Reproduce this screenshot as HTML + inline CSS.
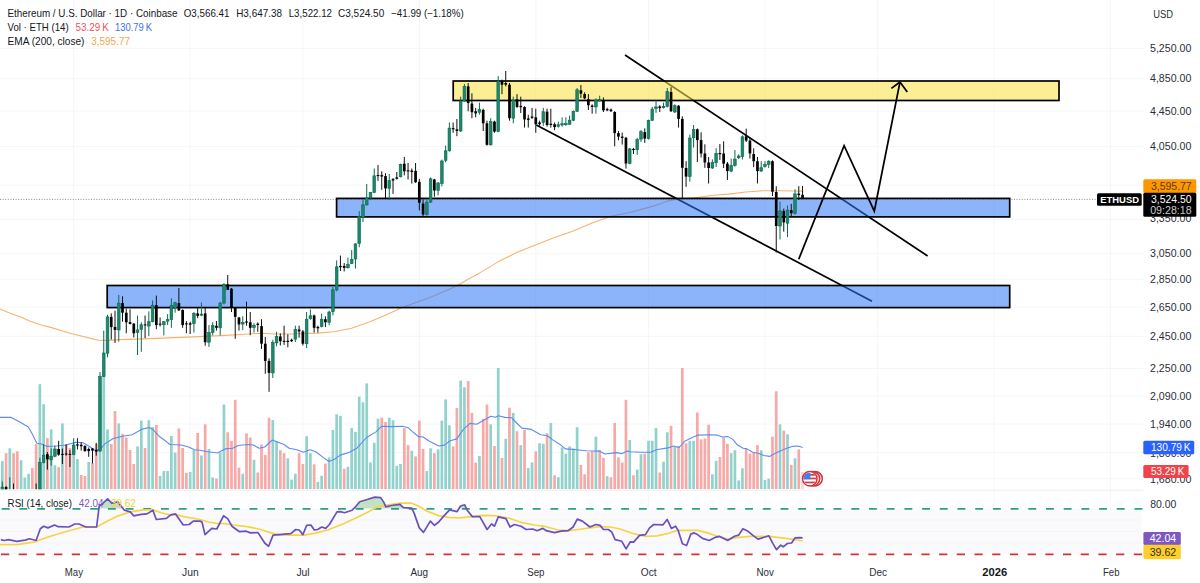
<!DOCTYPE html>
<html lang="en"><head><meta charset="utf-8"><title>ETHUSD chart</title>
<style>html,body{margin:0;padding:0;background:#fff;}body{width:1200px;height:583px;overflow:hidden;}svg{display:block;font-family:'Liberation Sans', sans-serif;}text{white-space:pre;}</style></head><body>
<svg width="1200" height="583" viewBox="0 0 1200 583">
<defs>
<clipPath id="mainclip"><rect x="0" y="0" width="1143" height="489.3"/></clipPath>
<clipPath id="obclip"><rect x="0" y="490" width="1143" height="18.5"/></clipPath>
<clipPath id="flagclip"><circle cx="809.8" cy="478.7" r="6.3"/></clipPath>
</defs>
<rect x="0" y="0" width="1200" height="583" fill="#ffffff"/>
<line x1="73.7" y1="0" x2="73.7" y2="562" stroke="#f5f6f8" stroke-width="1"/>
<line x1="190.2" y1="0" x2="190.2" y2="562" stroke="#f5f6f8" stroke-width="1"/>
<line x1="302.9" y1="0" x2="302.9" y2="562" stroke="#f5f6f8" stroke-width="1"/>
<line x1="419.3" y1="0" x2="419.3" y2="562" stroke="#f5f6f8" stroke-width="1"/>
<line x1="535.8" y1="0" x2="535.8" y2="562" stroke="#f5f6f8" stroke-width="1"/>
<line x1="648.5" y1="0" x2="648.5" y2="562" stroke="#f5f6f8" stroke-width="1"/>
<line x1="765.0" y1="0" x2="765.0" y2="562" stroke="#f5f6f8" stroke-width="1"/>
<line x1="877.7" y1="0" x2="877.7" y2="562" stroke="#f5f6f8" stroke-width="1"/>
<line x1="994.2" y1="0" x2="994.2" y2="562" stroke="#f5f6f8" stroke-width="1"/>
<line x1="1110.7" y1="0" x2="1110.7" y2="562" stroke="#f5f6f8" stroke-width="1"/>
<line x1="0" y1="48.4" x2="1143" y2="48.4" stroke="#f5f6f8" stroke-width="1"/>
<line x1="0" y1="78.7" x2="1143" y2="78.7" stroke="#f5f6f8" stroke-width="1"/>
<line x1="0" y1="111.1" x2="1143" y2="111.1" stroke="#f5f6f8" stroke-width="1"/>
<line x1="0" y1="146.6" x2="1143" y2="146.6" stroke="#f5f6f8" stroke-width="1"/>
<line x1="0" y1="185.2" x2="1143" y2="185.2" stroke="#f5f6f8" stroke-width="1"/>
<line x1="0" y1="219.4" x2="1143" y2="219.4" stroke="#f5f6f8" stroke-width="1"/>
<line x1="0" y1="253.7" x2="1143" y2="253.7" stroke="#f5f6f8" stroke-width="1"/>
<line x1="0" y1="279.4" x2="1143" y2="279.4" stroke="#f5f6f8" stroke-width="1"/>
<line x1="0" y1="307.0" x2="1143" y2="307.0" stroke="#f5f6f8" stroke-width="1"/>
<line x1="0" y1="336.3" x2="1143" y2="336.3" stroke="#f5f6f8" stroke-width="1"/>
<line x1="0" y1="368.5" x2="1143" y2="368.5" stroke="#f5f6f8" stroke-width="1"/>
<line x1="0" y1="396.0" x2="1143" y2="396.0" stroke="#f5f6f8" stroke-width="1"/>
<line x1="0" y1="424.0" x2="1143" y2="424.0" stroke="#f5f6f8" stroke-width="1"/>
<line x1="0" y1="452.6" x2="1143" y2="452.6" stroke="#f5f6f8" stroke-width="1"/>
<line x1="0" y1="478.7" x2="1143" y2="478.7" stroke="#f5f6f8" stroke-width="1"/>
<line x1="0" y1="490.2" x2="1200" y2="490.2" stroke="#eceef2" stroke-width="1"/>
<rect x="0" y="508.7" width="1141.6" height="45.5" fill="#fafafc"/>
<line x1="0" y1="520.0" x2="1141" y2="520.0" stroke="#f3f4f6" stroke-width="1"/>
<line x1="0" y1="531.3" x2="1141" y2="531.3" stroke="#f3f4f6" stroke-width="1"/>
<line x1="0" y1="542.8" x2="1141" y2="542.8" stroke="#f3f4f6" stroke-width="1"/>
<g clip-path="url(#mainclip)">
<rect x="0.95" y="461.1" width="2.70" height="27.9" fill="#92d2cc"/>
<rect x="4.71" y="453.2" width="2.70" height="35.8" fill="#f7a9a7"/>
<rect x="8.46" y="448.3" width="2.70" height="40.7" fill="#92d2cc"/>
<rect x="12.22" y="453.2" width="2.70" height="35.8" fill="#f7a9a7"/>
<rect x="15.98" y="451.3" width="2.70" height="37.7" fill="#f7a9a7"/>
<rect x="19.73" y="460.2" width="2.70" height="28.8" fill="#92d2cc"/>
<rect x="23.49" y="477.5" width="2.70" height="11.5" fill="#92d2cc"/>
<rect x="27.25" y="473.8" width="2.70" height="15.2" fill="#92d2cc"/>
<rect x="31.01" y="468.1" width="2.70" height="20.9" fill="#f7a9a7"/>
<rect x="34.76" y="444.2" width="2.70" height="44.8" fill="#f7a9a7"/>
<rect x="38.52" y="384.2" width="2.70" height="104.8" fill="#92d2cc"/>
<rect x="42.28" y="404.2" width="2.70" height="84.8" fill="#92d2cc"/>
<rect x="46.03" y="438.1" width="2.70" height="50.9" fill="#f7a9a7"/>
<rect x="49.79" y="429.4" width="2.70" height="59.6" fill="#92d2cc"/>
<rect x="53.55" y="465.3" width="2.70" height="23.7" fill="#92d2cc"/>
<rect x="57.30" y="467.2" width="2.70" height="21.8" fill="#f7a9a7"/>
<rect x="61.06" y="423.4" width="2.70" height="65.6" fill="#92d2cc"/>
<rect x="64.82" y="444.2" width="2.70" height="44.8" fill="#f7a9a7"/>
<rect x="68.58" y="447.9" width="2.70" height="41.1" fill="#f7a9a7"/>
<rect x="72.33" y="443.0" width="2.70" height="46.0" fill="#92d2cc"/>
<rect x="76.09" y="459.0" width="2.70" height="30.0" fill="#92d2cc"/>
<rect x="79.85" y="475.0" width="2.70" height="14.0" fill="#f7a9a7"/>
<rect x="83.60" y="476.0" width="2.70" height="13.0" fill="#f7a9a7"/>
<rect x="87.36" y="462.0" width="2.70" height="27.0" fill="#92d2cc"/>
<rect x="91.12" y="463.0" width="2.70" height="26.0" fill="#f7a9a7"/>
<rect x="94.88" y="444.0" width="2.70" height="45.0" fill="#f7a9a7"/>
<rect x="98.63" y="395.0" width="2.70" height="94.0" fill="#92d2cc"/>
<rect x="102.39" y="372.0" width="2.70" height="117.0" fill="#92d2cc"/>
<rect x="106.15" y="429.4" width="2.70" height="59.6" fill="#92d2cc"/>
<rect x="109.90" y="444.0" width="2.70" height="45.0" fill="#f7a9a7"/>
<rect x="113.66" y="411.0" width="2.70" height="78.0" fill="#f7a9a7"/>
<rect x="117.42" y="423.4" width="2.70" height="65.6" fill="#92d2cc"/>
<rect x="121.17" y="433.8" width="2.70" height="55.2" fill="#f7a9a7"/>
<rect x="124.93" y="437.5" width="2.70" height="51.5" fill="#f7a9a7"/>
<rect x="128.69" y="450.0" width="2.70" height="39.0" fill="#f7a9a7"/>
<rect x="132.45" y="464.0" width="2.70" height="25.0" fill="#f7a9a7"/>
<rect x="136.20" y="446.4" width="2.70" height="42.6" fill="#92d2cc"/>
<rect x="139.96" y="420.6" width="2.70" height="68.4" fill="#92d2cc"/>
<rect x="143.72" y="448.0" width="2.70" height="41.0" fill="#f7a9a7"/>
<rect x="147.47" y="420.2" width="2.70" height="68.8" fill="#92d2cc"/>
<rect x="151.23" y="427.0" width="2.70" height="62.0" fill="#92d2cc"/>
<rect x="154.99" y="425.0" width="2.70" height="64.0" fill="#f7a9a7"/>
<rect x="158.74" y="476.0" width="2.70" height="13.0" fill="#92d2cc"/>
<rect x="162.50" y="471.0" width="2.70" height="18.0" fill="#92d2cc"/>
<rect x="166.26" y="471.0" width="2.70" height="18.0" fill="#92d2cc"/>
<rect x="170.02" y="436.0" width="2.70" height="53.0" fill="#92d2cc"/>
<rect x="173.77" y="452.6" width="2.70" height="36.4" fill="#92d2cc"/>
<rect x="177.53" y="428.5" width="2.70" height="60.5" fill="#f7a9a7"/>
<rect x="181.29" y="448.0" width="2.70" height="41.0" fill="#f7a9a7"/>
<rect x="185.04" y="472.8" width="2.70" height="16.2" fill="#f7a9a7"/>
<rect x="188.80" y="472.0" width="2.70" height="17.0" fill="#92d2cc"/>
<rect x="192.56" y="450.0" width="2.70" height="39.0" fill="#92d2cc"/>
<rect x="196.31" y="433.0" width="2.70" height="56.0" fill="#f7a9a7"/>
<rect x="200.07" y="455.5" width="2.70" height="33.5" fill="#92d2cc"/>
<rect x="203.83" y="424.3" width="2.70" height="64.7" fill="#f7a9a7"/>
<rect x="207.59" y="449.0" width="2.70" height="40.0" fill="#92d2cc"/>
<rect x="211.34" y="477.5" width="2.70" height="11.5" fill="#92d2cc"/>
<rect x="215.10" y="478.5" width="2.70" height="10.5" fill="#f7a9a7"/>
<rect x="218.86" y="452.6" width="2.70" height="36.4" fill="#92d2cc"/>
<rect x="222.61" y="404.5" width="2.70" height="84.5" fill="#92d2cc"/>
<rect x="226.37" y="432.3" width="2.70" height="56.7" fill="#f7a9a7"/>
<rect x="230.13" y="440.8" width="2.70" height="48.2" fill="#f7a9a7"/>
<rect x="233.88" y="399.8" width="2.70" height="89.2" fill="#f7a9a7"/>
<rect x="237.64" y="467.7" width="2.70" height="21.3" fill="#f7a9a7"/>
<rect x="241.40" y="473.8" width="2.70" height="15.2" fill="#92d2cc"/>
<rect x="245.16" y="433.4" width="2.70" height="55.6" fill="#f7a9a7"/>
<rect x="248.91" y="437.5" width="2.70" height="51.5" fill="#f7a9a7"/>
<rect x="252.67" y="459.8" width="2.70" height="29.2" fill="#92d2cc"/>
<rect x="256.43" y="472.5" width="2.70" height="16.5" fill="#f7a9a7"/>
<rect x="260.18" y="444.5" width="2.70" height="44.5" fill="#f7a9a7"/>
<rect x="263.94" y="455.0" width="2.70" height="34.0" fill="#f7a9a7"/>
<rect x="267.70" y="417.7" width="2.70" height="71.3" fill="#f7a9a7"/>
<rect x="271.45" y="420.0" width="2.70" height="69.0" fill="#92d2cc"/>
<rect x="275.21" y="440.8" width="2.70" height="48.2" fill="#92d2cc"/>
<rect x="278.97" y="450.2" width="2.70" height="38.8" fill="#f7a9a7"/>
<rect x="282.73" y="453.2" width="2.70" height="35.8" fill="#f7a9a7"/>
<rect x="286.48" y="458.3" width="2.70" height="30.7" fill="#92d2cc"/>
<rect x="290.24" y="479.6" width="2.70" height="9.4" fill="#92d2cc"/>
<rect x="294.00" y="473.8" width="2.70" height="15.2" fill="#92d2cc"/>
<rect x="297.75" y="453.2" width="2.70" height="35.8" fill="#f7a9a7"/>
<rect x="301.51" y="464.0" width="2.70" height="25.0" fill="#f7a9a7"/>
<rect x="305.27" y="436.2" width="2.70" height="52.8" fill="#92d2cc"/>
<rect x="309.02" y="453.2" width="2.70" height="35.8" fill="#92d2cc"/>
<rect x="312.78" y="464.3" width="2.70" height="24.7" fill="#f7a9a7"/>
<rect x="316.54" y="481.9" width="2.70" height="7.1" fill="#92d2cc"/>
<rect x="320.30" y="475.8" width="2.70" height="13.2" fill="#92d2cc"/>
<rect x="324.05" y="463.6" width="2.70" height="25.4" fill="#f7a9a7"/>
<rect x="327.81" y="457.4" width="2.70" height="31.6" fill="#92d2cc"/>
<rect x="331.57" y="430.0" width="2.70" height="59.0" fill="#92d2cc"/>
<rect x="335.32" y="414.3" width="2.70" height="74.7" fill="#92d2cc"/>
<rect x="339.08" y="415.8" width="2.70" height="73.2" fill="#92d2cc"/>
<rect x="342.84" y="468.7" width="2.70" height="20.3" fill="#f7a9a7"/>
<rect x="346.59" y="466.8" width="2.70" height="22.2" fill="#92d2cc"/>
<rect x="350.35" y="428.1" width="2.70" height="60.9" fill="#92d2cc"/>
<rect x="354.11" y="431.9" width="2.70" height="57.1" fill="#92d2cc"/>
<rect x="357.87" y="396.6" width="2.70" height="92.4" fill="#92d2cc"/>
<rect x="361.62" y="402.3" width="2.70" height="86.7" fill="#92d2cc"/>
<rect x="365.38" y="383.4" width="2.70" height="105.6" fill="#92d2cc"/>
<rect x="369.14" y="462.5" width="2.70" height="26.5" fill="#92d2cc"/>
<rect x="372.89" y="442.8" width="2.70" height="46.2" fill="#92d2cc"/>
<rect x="376.65" y="418.7" width="2.70" height="70.3" fill="#92d2cc"/>
<rect x="380.41" y="417.7" width="2.70" height="71.3" fill="#f7a9a7"/>
<rect x="384.16" y="421.9" width="2.70" height="67.1" fill="#f7a9a7"/>
<rect x="387.92" y="417.7" width="2.70" height="71.3" fill="#92d2cc"/>
<rect x="391.68" y="420.2" width="2.70" height="68.8" fill="#92d2cc"/>
<rect x="395.44" y="465.8" width="2.70" height="23.2" fill="#92d2cc"/>
<rect x="399.19" y="464.0" width="2.70" height="25.0" fill="#92d2cc"/>
<rect x="402.95" y="428.1" width="2.70" height="60.9" fill="#f7a9a7"/>
<rect x="406.71" y="445.1" width="2.70" height="43.9" fill="#f7a9a7"/>
<rect x="410.46" y="450.8" width="2.70" height="38.2" fill="#92d2cc"/>
<rect x="414.22" y="456.4" width="2.70" height="32.6" fill="#f7a9a7"/>
<rect x="417.98" y="420.6" width="2.70" height="68.4" fill="#f7a9a7"/>
<rect x="421.73" y="448.9" width="2.70" height="40.1" fill="#f7a9a7"/>
<rect x="425.49" y="471.1" width="2.70" height="17.9" fill="#92d2cc"/>
<rect x="429.25" y="448.3" width="2.70" height="40.7" fill="#92d2cc"/>
<rect x="433.00" y="453.2" width="2.70" height="35.8" fill="#f7a9a7"/>
<rect x="436.76" y="449.4" width="2.70" height="39.6" fill="#92d2cc"/>
<rect x="440.52" y="420.6" width="2.70" height="68.4" fill="#92d2cc"/>
<rect x="444.28" y="399.4" width="2.70" height="89.6" fill="#92d2cc"/>
<rect x="448.03" y="425.3" width="2.70" height="63.7" fill="#92d2cc"/>
<rect x="451.79" y="446.4" width="2.70" height="42.6" fill="#f7a9a7"/>
<rect x="455.55" y="407.9" width="2.70" height="81.1" fill="#f7a9a7"/>
<rect x="459.30" y="380.6" width="2.70" height="108.4" fill="#92d2cc"/>
<rect x="463.06" y="387.2" width="2.70" height="101.8" fill="#92d2cc"/>
<rect x="466.82" y="381.0" width="2.70" height="108.0" fill="#f7a9a7"/>
<rect x="470.57" y="413.0" width="2.70" height="76.0" fill="#f7a9a7"/>
<rect x="474.33" y="462.6" width="2.70" height="26.4" fill="#f7a9a7"/>
<rect x="478.09" y="456.0" width="2.70" height="33.0" fill="#92d2cc"/>
<rect x="481.85" y="418.7" width="2.70" height="70.3" fill="#f7a9a7"/>
<rect x="485.60" y="404.5" width="2.70" height="84.5" fill="#f7a9a7"/>
<rect x="489.36" y="424.3" width="2.70" height="64.7" fill="#92d2cc"/>
<rect x="493.12" y="446.0" width="2.70" height="43.0" fill="#f7a9a7"/>
<rect x="496.87" y="368.0" width="2.70" height="121.0" fill="#92d2cc"/>
<rect x="500.63" y="458.0" width="2.70" height="31.0" fill="#f7a9a7"/>
<rect x="504.39" y="438.9" width="2.70" height="50.1" fill="#92d2cc"/>
<rect x="508.14" y="407.7" width="2.70" height="81.3" fill="#f7a9a7"/>
<rect x="511.90" y="413.0" width="2.70" height="76.0" fill="#92d2cc"/>
<rect x="515.66" y="431.3" width="2.70" height="57.7" fill="#f7a9a7"/>
<rect x="519.42" y="445.1" width="2.70" height="43.9" fill="#92d2cc"/>
<rect x="523.17" y="430.0" width="2.70" height="59.0" fill="#f7a9a7"/>
<rect x="526.93" y="468.1" width="2.70" height="20.9" fill="#92d2cc"/>
<rect x="530.69" y="462.5" width="2.70" height="26.5" fill="#92d2cc"/>
<rect x="534.44" y="451.3" width="2.70" height="37.7" fill="#f7a9a7"/>
<rect x="538.20" y="443.2" width="2.70" height="45.8" fill="#92d2cc"/>
<rect x="541.96" y="443.8" width="2.70" height="45.2" fill="#92d2cc"/>
<rect x="545.71" y="433.2" width="2.70" height="55.8" fill="#f7a9a7"/>
<rect x="549.47" y="423.0" width="2.70" height="66.0" fill="#92d2cc"/>
<rect x="553.23" y="475.3" width="2.70" height="13.7" fill="#f7a9a7"/>
<rect x="556.99" y="477.2" width="2.70" height="11.8" fill="#92d2cc"/>
<rect x="560.74" y="447.5" width="2.70" height="41.5" fill="#92d2cc"/>
<rect x="564.50" y="453.6" width="2.70" height="35.4" fill="#92d2cc"/>
<rect x="568.26" y="446.4" width="2.70" height="42.6" fill="#92d2cc"/>
<rect x="572.01" y="448.3" width="2.70" height="40.7" fill="#92d2cc"/>
<rect x="575.77" y="427.2" width="2.70" height="61.8" fill="#92d2cc"/>
<rect x="579.53" y="464.9" width="2.70" height="24.1" fill="#f7a9a7"/>
<rect x="583.28" y="474.3" width="2.70" height="14.7" fill="#f7a9a7"/>
<rect x="587.04" y="452.3" width="2.70" height="36.7" fill="#f7a9a7"/>
<rect x="590.80" y="451.3" width="2.70" height="37.7" fill="#f7a9a7"/>
<rect x="594.56" y="436.6" width="2.70" height="52.4" fill="#92d2cc"/>
<rect x="598.31" y="449.8" width="2.70" height="39.2" fill="#f7a9a7"/>
<rect x="602.07" y="457.9" width="2.70" height="31.1" fill="#f7a9a7"/>
<rect x="605.83" y="476.2" width="2.70" height="12.8" fill="#92d2cc"/>
<rect x="609.58" y="477.2" width="2.70" height="11.8" fill="#f7a9a7"/>
<rect x="613.34" y="423.0" width="2.70" height="66.0" fill="#f7a9a7"/>
<rect x="617.10" y="457.4" width="2.70" height="31.6" fill="#f7a9a7"/>
<rect x="620.85" y="462.5" width="2.70" height="26.5" fill="#f7a9a7"/>
<rect x="624.61" y="399.8" width="2.70" height="89.2" fill="#f7a9a7"/>
<rect x="628.37" y="440.0" width="2.70" height="49.0" fill="#92d2cc"/>
<rect x="632.13" y="475.3" width="2.70" height="13.7" fill="#f7a9a7"/>
<rect x="635.88" y="469.6" width="2.70" height="19.4" fill="#92d2cc"/>
<rect x="639.64" y="454.2" width="2.70" height="34.8" fill="#92d2cc"/>
<rect x="643.40" y="453.6" width="2.70" height="35.4" fill="#f7a9a7"/>
<rect x="647.15" y="440.8" width="2.70" height="48.2" fill="#92d2cc"/>
<rect x="650.91" y="440.8" width="2.70" height="48.2" fill="#92d2cc"/>
<rect x="654.67" y="428.1" width="2.70" height="60.9" fill="#92d2cc"/>
<rect x="658.42" y="472.5" width="2.70" height="16.5" fill="#f7a9a7"/>
<rect x="662.18" y="461.7" width="2.70" height="27.3" fill="#92d2cc"/>
<rect x="665.94" y="432.3" width="2.70" height="56.7" fill="#92d2cc"/>
<rect x="669.70" y="425.8" width="2.70" height="63.2" fill="#f7a9a7"/>
<rect x="673.45" y="447.0" width="2.70" height="42.0" fill="#92d2cc"/>
<rect x="677.21" y="446.0" width="2.70" height="43.0" fill="#f7a9a7"/>
<rect x="680.97" y="368.0" width="2.70" height="121.0" fill="#f7a9a7"/>
<rect x="684.72" y="443.2" width="2.70" height="45.8" fill="#f7a9a7"/>
<rect x="688.48" y="440.8" width="2.70" height="48.2" fill="#92d2cc"/>
<rect x="692.24" y="440.8" width="2.70" height="48.2" fill="#92d2cc"/>
<rect x="696.00" y="412.5" width="2.70" height="76.5" fill="#f7a9a7"/>
<rect x="699.75" y="439.4" width="2.70" height="49.6" fill="#f7a9a7"/>
<rect x="703.51" y="438.5" width="2.70" height="50.5" fill="#f7a9a7"/>
<rect x="707.27" y="424.7" width="2.70" height="64.3" fill="#f7a9a7"/>
<rect x="711.02" y="474.3" width="2.70" height="14.7" fill="#92d2cc"/>
<rect x="714.78" y="460.8" width="2.70" height="28.2" fill="#92d2cc"/>
<rect x="718.54" y="457.0" width="2.70" height="32.0" fill="#f7a9a7"/>
<rect x="722.29" y="437.5" width="2.70" height="51.5" fill="#f7a9a7"/>
<rect x="726.05" y="443.8" width="2.70" height="45.2" fill="#f7a9a7"/>
<rect x="729.81" y="453.2" width="2.70" height="35.8" fill="#92d2cc"/>
<rect x="733.56" y="450.2" width="2.70" height="38.8" fill="#92d2cc"/>
<rect x="737.32" y="480.4" width="2.70" height="8.6" fill="#92d2cc"/>
<rect x="741.08" y="468.3" width="2.70" height="20.7" fill="#92d2cc"/>
<rect x="744.84" y="448.9" width="2.70" height="40.1" fill="#f7a9a7"/>
<rect x="748.59" y="453.6" width="2.70" height="35.4" fill="#f7a9a7"/>
<rect x="752.35" y="452.6" width="2.70" height="36.4" fill="#f7a9a7"/>
<rect x="756.11" y="445.1" width="2.70" height="43.9" fill="#f7a9a7"/>
<rect x="759.86" y="450.2" width="2.70" height="38.8" fill="#92d2cc"/>
<rect x="763.62" y="480.0" width="2.70" height="9.0" fill="#92d2cc"/>
<rect x="767.38" y="478.7" width="2.70" height="10.3" fill="#92d2cc"/>
<rect x="771.13" y="436.6" width="2.70" height="52.4" fill="#f7a9a7"/>
<rect x="774.89" y="391.3" width="2.70" height="97.7" fill="#f7a9a7"/>
<rect x="778.65" y="424.3" width="2.70" height="64.7" fill="#92d2cc"/>
<rect x="782.41" y="430.6" width="2.70" height="58.4" fill="#f7a9a7"/>
<rect x="786.16" y="434.3" width="2.70" height="54.7" fill="#92d2cc"/>
<rect x="789.92" y="464.9" width="2.70" height="24.1" fill="#f7a9a7"/>
<rect x="793.68" y="458.3" width="2.70" height="30.7" fill="#92d2cc"/>
<rect x="797.43" y="449.4" width="2.70" height="39.6" fill="#f7a9a7"/>
<rect x="801.19" y="472.0" width="2.70" height="17.0" fill="#fbd9d8"/>
<polyline fill="none" stroke="#5b8cf0" stroke-width="1.1" stroke-linejoin="round" points="0.0,417.4 11.3,417.4 18.9,421.5 28.3,427.0 32.1,433.8 36.8,443.2 40.6,443.8 47.2,446.4 56.6,446.0 66.0,445.0 75.5,442.3 83.0,442.8 88.7,446.0 94.3,450.0 100.0,449.4 105.7,443.2 113.2,438.5 122.6,436.2 132.1,434.7 141.5,429.4 149.0,427.5 152.8,429.4 158.5,435.7 166.0,441.3 169.8,444.5 181.1,445.0 188.7,447.0 194.3,449.8 200.0,450.2 207.5,451.7 210.0,452.0 217.5,453.0 225.1,448.9 232.6,448.3 238.3,445.5 247.7,444.5 253.4,445.0 259.1,448.3 264.7,447.0 272.3,440.0 277.9,442.3 283.6,444.2 289.2,448.3 296.8,449.8 303.4,452.3 310.0,449.8 315.7,451.7 323.2,457.4 328.9,461.5 334.5,459.2 340.2,455.1 349.6,452.3 357.2,447.9 366.6,437.5 376.0,431.9 381.7,426.2 391.1,426.6 402.5,426.2 408.1,427.7 413.8,432.8 418.5,436.6 423.2,437.0 429.4,441.3 438.9,446.0 444.5,445.1 450.2,440.8 456.8,438.9 463.4,429.4 470.0,423.4 476.6,424.3 484.2,420.0 490.8,416.2 495.5,417.2 498.3,415.8 504.9,417.4 511.5,417.7 516.2,422.5 521.9,428.1 531.3,429.4 540.8,434.7 547.4,435.7 552.1,439.4 559.6,444.2 565.3,448.9 576.6,449.8 586.0,450.8 599.2,451.1 604.9,454.0 616.2,452.6 621.9,453.6 627.5,451.1 630.0,451.7 641.3,452.3 650.8,452.3 656.4,449.8 667.7,447.9 673.4,446.0 679.1,447.5 684.7,441.3 692.3,437.5 697.9,435.1 709.2,434.7 716.8,435.1 722.5,437.0 728.1,436.6 732.8,439.4 737.5,445.1 743.2,448.3 747.0,448.9 752.6,452.3 758.3,453.2 764.0,455.5 769.6,456.4 775.3,453.2 780.9,450.8 786.6,448.3 792.3,446.4 797.9,446.0 802.6,447.6"/>
<polyline fill="none" stroke="#f6b26b" stroke-width="1.1" stroke-linejoin="round" points="0.0,309.0 10.3,313.2 20.6,317.0 30.9,321.4 41.2,325.0 51.5,327.6 61.7,330.7 72.0,333.7 82.3,336.3 92.6,338.9 98.8,340.2 108.0,340.4 120.0,339.6 150.0,338.6 180.0,337.4 205.0,336.4 225.0,335.4 245.0,334.2 262.0,333.2 274.0,334.0 291.0,334.0 317.0,333.1 334.0,331.7 351.5,328.3 368.6,322.3 385.9,315.0 402.3,307.5 416.0,302.5 429.8,297.4 443.0,292.0 457.2,285.8 468.0,279.3 478.9,273.4 497.7,262.1 516.6,252.6 535.5,245.1 554.3,237.5 573.2,230.9 592.1,223.0 610.9,216.2 629.8,212.5 648.7,207.4 660.0,204.0 667.5,201.1 677.0,199.2 694.0,198.0 711.0,195.5 728.6,194.1 745.8,192.0 763.0,190.8 780.0,190.8 795.0,191.0 802.6,191.1"/>
<line x1="0" y1="199.4" x2="1097" y2="199.4" stroke="#6a6d78" stroke-width="0.8" stroke-dasharray="1 1.6"/>
<line x1="625" y1="55" x2="927.6" y2="256" stroke="#000" stroke-width="1.7"/>
<line x1="536.3" y1="125" x2="872" y2="301.2" stroke="#000" stroke-width="1.7"/>
<rect x="453.2" y="81.0" width="605.8" height="19.5" fill="rgba(250,226,70,0.58)" stroke="#000" stroke-width="1.7"/>
<rect x="336.6" y="198.4" width="673.1" height="18.5" fill="rgba(45,118,245,0.55)" stroke="#000" stroke-width="1.7"/>
<rect x="107.2" y="285.5" width="902.5" height="22.1" fill="rgba(45,118,245,0.55)" stroke="#000" stroke-width="1.7"/>
<line x1="2.30" y1="481.5" x2="2.30" y2="495.0" stroke="#0d6b52" stroke-width="1"/>
<rect x="0.95" y="487.0" width="2.70" height="8.0" fill="#1d866d" stroke="#0d6b52" stroke-width="0.6"/>
<line x1="6.06" y1="486.0" x2="6.06" y2="495.0" stroke="#111" stroke-width="1"/>
<rect x="4.71" y="487.0" width="2.70" height="8.0" fill="#000"/>
<line x1="9.81" y1="477.3" x2="9.81" y2="495.0" stroke="#0d6b52" stroke-width="1"/>
<rect x="8.46" y="491.8" width="2.70" height="3.2" fill="#1d866d" stroke="#0d6b52" stroke-width="0.6"/>
<line x1="13.57" y1="483.5" x2="13.57" y2="495.0" stroke="#111" stroke-width="1"/>
<rect x="12.22" y="491.7" width="2.70" height="3.3" fill="#000"/>
<line x1="36.11" y1="483.5" x2="36.11" y2="495.0" stroke="#111" stroke-width="1"/>
<rect x="34.76" y="493.0" width="2.70" height="2.0" fill="#000"/>
<line x1="39.87" y1="457.8" x2="39.87" y2="495.0" stroke="#0d6b52" stroke-width="1"/>
<rect x="38.52" y="462.4" width="2.70" height="32.6" fill="#1d866d" stroke="#0d6b52" stroke-width="0.6"/>
<line x1="43.63" y1="444.4" x2="43.63" y2="463.4" stroke="#0d6b52" stroke-width="1"/>
<rect x="42.28" y="455.2" width="2.70" height="7.2" fill="#1d866d" stroke="#0d6b52" stroke-width="0.6"/>
<line x1="47.38" y1="452.1" x2="47.38" y2="469.6" stroke="#111" stroke-width="1"/>
<rect x="46.03" y="454.2" width="2.70" height="5.1" fill="#000"/>
<line x1="51.14" y1="448.5" x2="51.14" y2="465.5" stroke="#0d6b52" stroke-width="1"/>
<rect x="49.79" y="456.2" width="2.70" height="3.6" fill="#1d866d" stroke="#0d6b52" stroke-width="0.6"/>
<line x1="54.90" y1="445.4" x2="54.90" y2="457.3" stroke="#0d6b52" stroke-width="1"/>
<rect x="53.55" y="449.0" width="2.70" height="7.2" fill="#1d866d" stroke="#0d6b52" stroke-width="0.6"/>
<line x1="58.66" y1="440.8" x2="58.66" y2="455.7" stroke="#111" stroke-width="1"/>
<rect x="57.30" y="449.0" width="2.70" height="5.7" fill="#000"/>
<line x1="62.41" y1="448.5" x2="62.41" y2="464.0" stroke="#111" stroke-width="1"/>
<rect x="61.06" y="453.9" width="2.70" height="1.0" fill="#000"/>
<line x1="66.17" y1="444.4" x2="66.17" y2="455.7" stroke="#111" stroke-width="1"/>
<rect x="64.82" y="453.5" width="2.70" height="1.0" fill="#000"/>
<line x1="69.93" y1="450.0" x2="69.93" y2="467.0" stroke="#111" stroke-width="1"/>
<rect x="68.58" y="453.9" width="2.70" height="1.0" fill="#000"/>
<line x1="73.68" y1="438.2" x2="73.68" y2="455.2" stroke="#0d6b52" stroke-width="1"/>
<rect x="72.33" y="445.4" width="2.70" height="9.3" fill="#1d866d" stroke="#0d6b52" stroke-width="0.6"/>
<line x1="77.44" y1="438.2" x2="77.44" y2="449.5" stroke="#111" stroke-width="1"/>
<rect x="76.09" y="444.4" width="2.70" height="1.2" fill="#000"/>
<line x1="81.20" y1="442.3" x2="81.20" y2="450.6" stroke="#111" stroke-width="1"/>
<rect x="79.85" y="444.7" width="2.70" height="1.6" fill="#000"/>
<line x1="84.95" y1="445.2" x2="84.95" y2="451.8" stroke="#111" stroke-width="1"/>
<rect x="83.60" y="446.0" width="2.70" height="5.1" fill="#000"/>
<line x1="88.71" y1="447.5" x2="88.71" y2="456.8" stroke="#111" stroke-width="1"/>
<rect x="87.36" y="449.0" width="2.70" height="2.1" fill="#000"/>
<line x1="92.47" y1="448.0" x2="92.47" y2="463.4" stroke="#111" stroke-width="1"/>
<rect x="91.12" y="448.5" width="2.70" height="2.1" fill="#000"/>
<line x1="96.22" y1="442.9" x2="96.22" y2="455.7" stroke="#111" stroke-width="1"/>
<rect x="94.88" y="450.0" width="2.70" height="1.6" fill="#000"/>
<line x1="99.98" y1="372.0" x2="99.98" y2="452.0" stroke="#0d6b52" stroke-width="1"/>
<rect x="98.63" y="376.5" width="2.70" height="74.5" fill="#1d866d" stroke="#0d6b52" stroke-width="0.6"/>
<line x1="103.74" y1="330.6" x2="103.74" y2="377.0" stroke="#0d6b52" stroke-width="1"/>
<rect x="102.39" y="353.0" width="2.70" height="23.5" fill="#1d866d" stroke="#0d6b52" stroke-width="0.6"/>
<line x1="107.50" y1="314.8" x2="107.50" y2="357.4" stroke="#0d6b52" stroke-width="1"/>
<rect x="106.15" y="316.9" width="2.70" height="36.3" fill="#1d866d" stroke="#0d6b52" stroke-width="0.6"/>
<line x1="111.25" y1="313.4" x2="111.25" y2="339.5" stroke="#111" stroke-width="1"/>
<rect x="109.90" y="316.9" width="2.70" height="10.2" fill="#000"/>
<line x1="115.01" y1="310.7" x2="115.01" y2="342.9" stroke="#111" stroke-width="1"/>
<rect x="113.66" y="326.9" width="2.70" height="3.0" fill="#000"/>
<line x1="118.77" y1="294.9" x2="118.77" y2="341.6" stroke="#0d6b52" stroke-width="1"/>
<rect x="117.42" y="303.1" width="2.70" height="26.8" fill="#1d866d" stroke="#0d6b52" stroke-width="0.6"/>
<line x1="122.52" y1="296.3" x2="122.52" y2="321.7" stroke="#111" stroke-width="1"/>
<rect x="121.17" y="303.1" width="2.70" height="9.6" fill="#000"/>
<line x1="126.28" y1="308.6" x2="126.28" y2="333.3" stroke="#111" stroke-width="1"/>
<rect x="124.93" y="312.7" width="2.70" height="9.6" fill="#000"/>
<line x1="130.04" y1="309.3" x2="130.04" y2="324.4" stroke="#111" stroke-width="1"/>
<rect x="128.69" y="322.1" width="2.70" height="1.9" fill="#000"/>
<line x1="133.80" y1="323.0" x2="133.80" y2="337.4" stroke="#111" stroke-width="1"/>
<rect x="132.45" y="323.7" width="2.70" height="9.6" fill="#000"/>
<line x1="137.55" y1="315.5" x2="137.55" y2="355.0" stroke="#0d6b52" stroke-width="1"/>
<rect x="136.20" y="329.9" width="2.70" height="2.7" fill="#1d866d" stroke="#0d6b52" stroke-width="0.6"/>
<line x1="141.31" y1="322.3" x2="141.31" y2="351.8" stroke="#0d6b52" stroke-width="1"/>
<rect x="139.96" y="324.7" width="2.70" height="4.9" fill="#1d866d" stroke="#0d6b52" stroke-width="0.6"/>
<line x1="145.07" y1="315.5" x2="145.07" y2="338.1" stroke="#111" stroke-width="1"/>
<rect x="143.72" y="324.4" width="2.70" height="1.0" fill="#000"/>
<line x1="148.82" y1="311.4" x2="148.82" y2="336.1" stroke="#0d6b52" stroke-width="1"/>
<rect x="147.47" y="321.7" width="2.70" height="4.3" fill="#1d866d" stroke="#0d6b52" stroke-width="0.6"/>
<line x1="152.58" y1="300.4" x2="152.58" y2="322.3" stroke="#0d6b52" stroke-width="1"/>
<rect x="151.23" y="305.2" width="2.70" height="16.5" fill="#1d866d" stroke="#0d6b52" stroke-width="0.6"/>
<line x1="156.34" y1="295.6" x2="156.34" y2="329.2" stroke="#111" stroke-width="1"/>
<rect x="154.99" y="305.2" width="2.70" height="19.9" fill="#000"/>
<line x1="160.09" y1="317.5" x2="160.09" y2="326.5" stroke="#111" stroke-width="1"/>
<rect x="158.74" y="323.7" width="2.70" height="1.0" fill="#000"/>
<line x1="163.85" y1="321.0" x2="163.85" y2="335.4" stroke="#0d6b52" stroke-width="1"/>
<rect x="162.50" y="321.7" width="2.70" height="3.0" fill="#1d866d" stroke="#0d6b52" stroke-width="0.6"/>
<line x1="167.61" y1="314.1" x2="167.61" y2="325.1" stroke="#0d6b52" stroke-width="1"/>
<rect x="166.26" y="319.6" width="2.70" height="1.6" fill="#1d866d" stroke="#0d6b52" stroke-width="0.6"/>
<line x1="171.37" y1="298.3" x2="171.37" y2="327.8" stroke="#0d6b52" stroke-width="1"/>
<rect x="170.02" y="305.5" width="2.70" height="14.1" fill="#1d866d" stroke="#0d6b52" stroke-width="0.6"/>
<line x1="175.12" y1="301.8" x2="175.12" y2="312.7" stroke="#0d6b52" stroke-width="1"/>
<rect x="173.77" y="302.7" width="2.70" height="5.9" fill="#1d866d" stroke="#0d6b52" stroke-width="0.6"/>
<line x1="178.88" y1="288.0" x2="178.88" y2="311.0" stroke="#111" stroke-width="1"/>
<rect x="177.53" y="303.1" width="2.70" height="7.3" fill="#000"/>
<line x1="182.64" y1="309.3" x2="182.64" y2="327.8" stroke="#111" stroke-width="1"/>
<rect x="181.29" y="310.0" width="2.70" height="15.1" fill="#000"/>
<line x1="186.39" y1="321.0" x2="186.39" y2="333.3" stroke="#111" stroke-width="1"/>
<rect x="185.04" y="323.3" width="2.70" height="1.1" fill="#000"/>
<line x1="190.15" y1="321.7" x2="190.15" y2="334.0" stroke="#111" stroke-width="1"/>
<rect x="188.80" y="323.3" width="2.70" height="1.4" fill="#000"/>
<line x1="193.91" y1="312.0" x2="193.91" y2="332.6" stroke="#0d6b52" stroke-width="1"/>
<rect x="192.56" y="313.4" width="2.70" height="10.3" fill="#1d866d" stroke="#0d6b52" stroke-width="0.6"/>
<line x1="197.66" y1="307.2" x2="197.66" y2="318.2" stroke="#111" stroke-width="1"/>
<rect x="196.31" y="313.4" width="2.70" height="2.5" fill="#000"/>
<line x1="201.42" y1="302.4" x2="201.42" y2="316.2" stroke="#0d6b52" stroke-width="1"/>
<rect x="200.07" y="314.1" width="2.70" height="1.1" fill="#1d866d" stroke="#0d6b52" stroke-width="0.6"/>
<line x1="205.18" y1="307.9" x2="205.18" y2="345.7" stroke="#111" stroke-width="1"/>
<rect x="203.83" y="313.4" width="2.70" height="28.8" fill="#000"/>
<line x1="208.94" y1="325.1" x2="208.94" y2="347.0" stroke="#0d6b52" stroke-width="1"/>
<rect x="207.59" y="332.6" width="2.70" height="9.6" fill="#1d866d" stroke="#0d6b52" stroke-width="0.6"/>
<line x1="212.69" y1="322.3" x2="212.69" y2="335.4" stroke="#0d6b52" stroke-width="1"/>
<rect x="211.34" y="325.5" width="2.70" height="7.1" fill="#1d866d" stroke="#0d6b52" stroke-width="0.6"/>
<line x1="216.45" y1="321.0" x2="216.45" y2="330.6" stroke="#111" stroke-width="1"/>
<rect x="215.10" y="325.8" width="2.70" height="2.0" fill="#000"/>
<line x1="220.21" y1="301.8" x2="220.21" y2="335.4" stroke="#0d6b52" stroke-width="1"/>
<rect x="218.86" y="303.1" width="2.70" height="24.7" fill="#1d866d" stroke="#0d6b52" stroke-width="0.6"/>
<line x1="223.96" y1="283.2" x2="223.96" y2="304.5" stroke="#0d6b52" stroke-width="1"/>
<rect x="222.61" y="284.6" width="2.70" height="18.5" fill="#1d866d" stroke="#0d6b52" stroke-width="0.6"/>
<line x1="227.72" y1="275.0" x2="227.72" y2="290.0" stroke="#111" stroke-width="1"/>
<rect x="226.37" y="284.3" width="2.70" height="5.5" fill="#000"/>
<line x1="231.48" y1="288.0" x2="231.48" y2="312.0" stroke="#111" stroke-width="1"/>
<rect x="230.13" y="288.7" width="2.70" height="19.2" fill="#000"/>
<line x1="235.23" y1="307.2" x2="235.23" y2="338.8" stroke="#111" stroke-width="1"/>
<rect x="233.88" y="307.9" width="2.70" height="9.0" fill="#000"/>
<line x1="238.99" y1="316.9" x2="238.99" y2="330.6" stroke="#111" stroke-width="1"/>
<rect x="237.64" y="317.5" width="2.70" height="6.9" fill="#000"/>
<line x1="242.75" y1="316.3" x2="242.75" y2="330.0" stroke="#0d6b52" stroke-width="1"/>
<rect x="241.40" y="322.3" width="2.70" height="1.8" fill="#1d866d" stroke="#0d6b52" stroke-width="0.6"/>
<line x1="246.51" y1="301.7" x2="246.51" y2="325.7" stroke="#111" stroke-width="1"/>
<rect x="245.16" y="321.4" width="2.70" height="1.2" fill="#000"/>
<line x1="250.26" y1="312.0" x2="250.26" y2="335.2" stroke="#111" stroke-width="1"/>
<rect x="248.91" y="322.3" width="2.70" height="5.5" fill="#000"/>
<line x1="254.02" y1="323.2" x2="254.02" y2="332.6" stroke="#0d6b52" stroke-width="1"/>
<rect x="252.67" y="325.4" width="2.70" height="2.0" fill="#1d866d" stroke="#0d6b52" stroke-width="0.6"/>
<line x1="257.78" y1="322.3" x2="257.78" y2="331.7" stroke="#111" stroke-width="1"/>
<rect x="256.43" y="323.7" width="2.70" height="1.3" fill="#000"/>
<line x1="261.53" y1="319.2" x2="261.53" y2="348.9" stroke="#111" stroke-width="1"/>
<rect x="260.18" y="326.1" width="2.70" height="17.6" fill="#000"/>
<line x1="265.29" y1="336.9" x2="265.29" y2="373.8" stroke="#111" stroke-width="1"/>
<rect x="263.94" y="343.7" width="2.70" height="17.2" fill="#000"/>
<line x1="269.05" y1="358.3" x2="269.05" y2="391.8" stroke="#111" stroke-width="1"/>
<rect x="267.70" y="360.9" width="2.70" height="12.0" fill="#000"/>
<line x1="272.80" y1="339.8" x2="272.80" y2="378.0" stroke="#0d6b52" stroke-width="1"/>
<rect x="271.45" y="342.5" width="2.70" height="30.4" fill="#1d866d" stroke="#0d6b52" stroke-width="0.6"/>
<line x1="276.56" y1="331.7" x2="276.56" y2="346.3" stroke="#0d6b52" stroke-width="1"/>
<rect x="275.21" y="336.5" width="2.70" height="6.4" fill="#1d866d" stroke="#0d6b52" stroke-width="0.6"/>
<line x1="280.32" y1="333.4" x2="280.32" y2="345.5" stroke="#111" stroke-width="1"/>
<rect x="278.97" y="336.5" width="2.70" height="4.7" fill="#000"/>
<line x1="284.08" y1="325.7" x2="284.08" y2="344.9" stroke="#111" stroke-width="1"/>
<rect x="282.73" y="340.8" width="2.70" height="1.1" fill="#000"/>
<line x1="287.83" y1="334.3" x2="287.83" y2="347.2" stroke="#111" stroke-width="1"/>
<rect x="286.48" y="340.8" width="2.70" height="1.2" fill="#000"/>
<line x1="291.59" y1="338.6" x2="291.59" y2="342.0" stroke="#111" stroke-width="1"/>
<rect x="290.24" y="339.8" width="2.70" height="1.4" fill="#000"/>
<line x1="295.35" y1="325.7" x2="295.35" y2="342.0" stroke="#0d6b52" stroke-width="1"/>
<rect x="294.00" y="329.5" width="2.70" height="9.6" fill="#1d866d" stroke="#0d6b52" stroke-width="0.6"/>
<line x1="299.10" y1="325.7" x2="299.10" y2="337.7" stroke="#111" stroke-width="1"/>
<rect x="297.75" y="329.5" width="2.70" height="1.9" fill="#000"/>
<line x1="302.86" y1="330.0" x2="302.86" y2="345.5" stroke="#111" stroke-width="1"/>
<rect x="301.51" y="331.4" width="2.70" height="12.3" fill="#000"/>
<line x1="306.62" y1="312.0" x2="306.62" y2="348.0" stroke="#0d6b52" stroke-width="1"/>
<rect x="305.27" y="319.2" width="2.70" height="24.5" fill="#1d866d" stroke="#0d6b52" stroke-width="0.6"/>
<line x1="310.37" y1="309.4" x2="310.37" y2="319.7" stroke="#0d6b52" stroke-width="1"/>
<rect x="309.02" y="315.8" width="2.70" height="2.7" fill="#1d866d" stroke="#0d6b52" stroke-width="0.6"/>
<line x1="314.13" y1="314.6" x2="314.13" y2="332.6" stroke="#111" stroke-width="1"/>
<rect x="312.78" y="315.4" width="2.70" height="12.4" fill="#000"/>
<line x1="317.89" y1="325.7" x2="317.89" y2="332.6" stroke="#111" stroke-width="1"/>
<rect x="316.54" y="326.9" width="2.70" height="1.4" fill="#000"/>
<line x1="321.65" y1="313.7" x2="321.65" y2="327.4" stroke="#0d6b52" stroke-width="1"/>
<rect x="320.30" y="319.2" width="2.70" height="7.4" fill="#1d866d" stroke="#0d6b52" stroke-width="0.6"/>
<line x1="325.40" y1="316.3" x2="325.40" y2="327.1" stroke="#111" stroke-width="1"/>
<rect x="324.05" y="319.2" width="2.70" height="3.1" fill="#000"/>
<line x1="329.16" y1="310.6" x2="329.16" y2="325.4" stroke="#0d6b52" stroke-width="1"/>
<rect x="327.81" y="312.0" width="2.70" height="10.3" fill="#1d866d" stroke="#0d6b52" stroke-width="0.6"/>
<line x1="332.92" y1="287.1" x2="332.92" y2="315.4" stroke="#0d6b52" stroke-width="1"/>
<rect x="331.57" y="289.9" width="2.70" height="21.8" fill="#1d866d" stroke="#0d6b52" stroke-width="0.6"/>
<line x1="336.67" y1="260.4" x2="336.67" y2="291.3" stroke="#0d6b52" stroke-width="1"/>
<rect x="335.32" y="266.8" width="2.70" height="23.1" fill="#1d866d" stroke="#0d6b52" stroke-width="0.6"/>
<line x1="340.43" y1="255.6" x2="340.43" y2="271.0" stroke="#111" stroke-width="1"/>
<rect x="339.08" y="265.9" width="2.70" height="1.3" fill="#000"/>
<line x1="344.19" y1="263.1" x2="344.19" y2="271.4" stroke="#111" stroke-width="1"/>
<rect x="342.84" y="265.9" width="2.70" height="2.0" fill="#000"/>
<line x1="347.94" y1="257.6" x2="347.94" y2="268.6" stroke="#0d6b52" stroke-width="1"/>
<rect x="346.59" y="264.5" width="2.70" height="3.2" fill="#1d866d" stroke="#0d6b52" stroke-width="0.6"/>
<line x1="351.70" y1="250.1" x2="351.70" y2="264.1" stroke="#0d6b52" stroke-width="1"/>
<rect x="350.35" y="259.4" width="2.70" height="4.1" fill="#1d866d" stroke="#0d6b52" stroke-width="0.6"/>
<line x1="355.46" y1="243.2" x2="355.46" y2="268.6" stroke="#0d6b52" stroke-width="1"/>
<rect x="354.11" y="243.9" width="2.70" height="15.1" fill="#1d866d" stroke="#0d6b52" stroke-width="0.6"/>
<line x1="359.22" y1="211.1" x2="359.22" y2="247.3" stroke="#0d6b52" stroke-width="1"/>
<rect x="357.87" y="216.6" width="2.70" height="26.9" fill="#1d866d" stroke="#0d6b52" stroke-width="0.6"/>
<line x1="362.97" y1="199.4" x2="362.97" y2="222.0" stroke="#0d6b52" stroke-width="1"/>
<rect x="361.62" y="204.9" width="2.70" height="12.3" fill="#1d866d" stroke="#0d6b52" stroke-width="0.6"/>
<line x1="366.73" y1="184.0" x2="366.73" y2="205.6" stroke="#0d6b52" stroke-width="1"/>
<rect x="365.38" y="197.8" width="2.70" height="7.1" fill="#1d866d" stroke="#0d6b52" stroke-width="0.6"/>
<line x1="370.49" y1="191.9" x2="370.49" y2="200.1" stroke="#0d6b52" stroke-width="1"/>
<rect x="369.14" y="192.5" width="2.70" height="5.5" fill="#1d866d" stroke="#0d6b52" stroke-width="0.6"/>
<line x1="374.24" y1="168.5" x2="374.24" y2="193.2" stroke="#0d6b52" stroke-width="1"/>
<rect x="372.89" y="175.8" width="2.70" height="16.7" fill="#1d866d" stroke="#0d6b52" stroke-width="0.6"/>
<line x1="378.00" y1="165.1" x2="378.00" y2="180.9" stroke="#111" stroke-width="1"/>
<rect x="376.65" y="175.0" width="2.70" height="1.1" fill="#000"/>
<line x1="381.76" y1="171.3" x2="381.76" y2="189.8" stroke="#111" stroke-width="1"/>
<rect x="380.41" y="175.1" width="2.70" height="1.4" fill="#000"/>
<line x1="385.51" y1="173.3" x2="385.51" y2="198.0" stroke="#111" stroke-width="1"/>
<rect x="384.16" y="176.1" width="2.70" height="12.3" fill="#000"/>
<line x1="389.27" y1="174.0" x2="389.27" y2="200.1" stroke="#0d6b52" stroke-width="1"/>
<rect x="387.92" y="180.5" width="2.70" height="7.9" fill="#1d866d" stroke="#0d6b52" stroke-width="0.6"/>
<line x1="393.03" y1="178.1" x2="393.03" y2="193.9" stroke="#111" stroke-width="1"/>
<rect x="391.68" y="179.1" width="2.70" height="1.4" fill="#000"/>
<line x1="396.79" y1="172.0" x2="396.79" y2="179.5" stroke="#111" stroke-width="1"/>
<rect x="395.44" y="177.4" width="2.70" height="1.4" fill="#000"/>
<line x1="400.54" y1="163.7" x2="400.54" y2="177.4" stroke="#0d6b52" stroke-width="1"/>
<rect x="399.19" y="164.4" width="2.70" height="12.4" fill="#1d866d" stroke="#0d6b52" stroke-width="0.6"/>
<line x1="404.30" y1="156.9" x2="404.30" y2="175.4" stroke="#111" stroke-width="1"/>
<rect x="402.95" y="163.7" width="2.70" height="7.6" fill="#000"/>
<line x1="408.06" y1="163.0" x2="408.06" y2="179.5" stroke="#111" stroke-width="1"/>
<rect x="406.71" y="170.3" width="2.70" height="1.1" fill="#000"/>
<line x1="411.81" y1="168.5" x2="411.81" y2="183.6" stroke="#111" stroke-width="1"/>
<rect x="410.46" y="170.6" width="2.70" height="1.4" fill="#000"/>
<line x1="415.57" y1="163.0" x2="415.57" y2="182.9" stroke="#111" stroke-width="1"/>
<rect x="414.22" y="170.9" width="2.70" height="11.3" fill="#000"/>
<line x1="419.33" y1="178.8" x2="419.33" y2="210.4" stroke="#111" stroke-width="1"/>
<rect x="417.98" y="181.8" width="2.70" height="21.0" fill="#000"/>
<line x1="423.08" y1="199.4" x2="423.08" y2="216.6" stroke="#111" stroke-width="1"/>
<rect x="421.73" y="203.5" width="2.70" height="11.0" fill="#000"/>
<line x1="426.84" y1="199.4" x2="426.84" y2="215.6" stroke="#0d6b52" stroke-width="1"/>
<rect x="425.49" y="202.1" width="2.70" height="12.4" fill="#1d866d" stroke="#0d6b52" stroke-width="0.6"/>
<line x1="430.60" y1="177.4" x2="430.60" y2="202.8" stroke="#0d6b52" stroke-width="1"/>
<rect x="429.25" y="178.8" width="2.70" height="23.3" fill="#1d866d" stroke="#0d6b52" stroke-width="0.6"/>
<line x1="434.36" y1="178.8" x2="434.36" y2="196.7" stroke="#111" stroke-width="1"/>
<rect x="433.00" y="179.5" width="2.70" height="11.0" fill="#000"/>
<line x1="438.11" y1="182.2" x2="438.11" y2="195.3" stroke="#0d6b52" stroke-width="1"/>
<rect x="436.76" y="182.9" width="2.70" height="7.6" fill="#1d866d" stroke="#0d6b52" stroke-width="0.6"/>
<line x1="441.87" y1="159.6" x2="441.87" y2="186.4" stroke="#0d6b52" stroke-width="1"/>
<rect x="440.52" y="161.0" width="2.70" height="22.6" fill="#1d866d" stroke="#0d6b52" stroke-width="0.6"/>
<line x1="445.63" y1="145.6" x2="445.63" y2="162.3" stroke="#0d6b52" stroke-width="1"/>
<rect x="444.28" y="150.8" width="2.70" height="9.5" fill="#1d866d" stroke="#0d6b52" stroke-width="0.6"/>
<line x1="449.38" y1="122.5" x2="449.38" y2="151.6" stroke="#0d6b52" stroke-width="1"/>
<rect x="448.03" y="128.1" width="2.70" height="22.7" fill="#1d866d" stroke="#0d6b52" stroke-width="0.6"/>
<line x1="453.14" y1="122.5" x2="453.14" y2="132.8" stroke="#111" stroke-width="1"/>
<rect x="451.79" y="128.1" width="2.70" height="1.2" fill="#000"/>
<line x1="456.90" y1="119.0" x2="456.90" y2="136.2" stroke="#111" stroke-width="1"/>
<rect x="455.55" y="129.3" width="2.70" height="1.7" fill="#000"/>
<line x1="460.65" y1="96.7" x2="460.65" y2="131.9" stroke="#0d6b52" stroke-width="1"/>
<rect x="459.30" y="101.0" width="2.70" height="30.0" fill="#1d866d" stroke="#0d6b52" stroke-width="0.6"/>
<line x1="464.41" y1="83.9" x2="464.41" y2="101.9" stroke="#0d6b52" stroke-width="1"/>
<rect x="463.06" y="86.4" width="2.70" height="14.6" fill="#1d866d" stroke="#0d6b52" stroke-width="0.6"/>
<line x1="468.17" y1="83.0" x2="468.17" y2="111.3" stroke="#111" stroke-width="1"/>
<rect x="466.82" y="86.4" width="2.70" height="16.7" fill="#000"/>
<line x1="471.93" y1="93.3" x2="471.93" y2="118.2" stroke="#111" stroke-width="1"/>
<rect x="470.57" y="103.6" width="2.70" height="8.6" fill="#000"/>
<line x1="475.68" y1="107.9" x2="475.68" y2="117.3" stroke="#111" stroke-width="1"/>
<rect x="474.33" y="111.3" width="2.70" height="2.1" fill="#000"/>
<line x1="479.44" y1="102.7" x2="479.44" y2="114.7" stroke="#0d6b52" stroke-width="1"/>
<rect x="478.09" y="109.6" width="2.70" height="2.6" fill="#1d866d" stroke="#0d6b52" stroke-width="0.6"/>
<line x1="483.20" y1="108.7" x2="483.20" y2="131.0" stroke="#111" stroke-width="1"/>
<rect x="481.85" y="109.9" width="2.70" height="13.4" fill="#000"/>
<line x1="486.95" y1="120.7" x2="486.95" y2="145.6" stroke="#111" stroke-width="1"/>
<rect x="485.60" y="123.3" width="2.70" height="21.5" fill="#000"/>
<line x1="490.71" y1="118.2" x2="490.71" y2="145.6" stroke="#0d6b52" stroke-width="1"/>
<rect x="489.36" y="121.6" width="2.70" height="23.2" fill="#1d866d" stroke="#0d6b52" stroke-width="0.6"/>
<line x1="494.47" y1="120.7" x2="494.47" y2="132.8" stroke="#111" stroke-width="1"/>
<rect x="493.12" y="121.6" width="2.70" height="10.0" fill="#000"/>
<line x1="498.22" y1="76.1" x2="498.22" y2="132.2" stroke="#0d6b52" stroke-width="1"/>
<rect x="496.87" y="81.3" width="2.70" height="50.3" fill="#1d866d" stroke="#0d6b52" stroke-width="0.6"/>
<line x1="501.98" y1="79.6" x2="501.98" y2="94.2" stroke="#111" stroke-width="1"/>
<rect x="500.63" y="81.3" width="2.70" height="3.4" fill="#000"/>
<line x1="505.74" y1="71.0" x2="505.74" y2="86.4" stroke="#111" stroke-width="1"/>
<rect x="504.39" y="83.0" width="2.70" height="1.7" fill="#000"/>
<line x1="509.50" y1="83.0" x2="509.50" y2="120.7" stroke="#111" stroke-width="1"/>
<rect x="508.14" y="84.7" width="2.70" height="33.5" fill="#000"/>
<line x1="513.25" y1="96.7" x2="513.25" y2="123.3" stroke="#0d6b52" stroke-width="1"/>
<rect x="511.90" y="100.2" width="2.70" height="18.0" fill="#1d866d" stroke="#0d6b52" stroke-width="0.6"/>
<line x1="517.01" y1="94.2" x2="517.01" y2="107.9" stroke="#111" stroke-width="1"/>
<rect x="515.66" y="99.3" width="2.70" height="7.7" fill="#000"/>
<line x1="520.77" y1="96.7" x2="520.77" y2="113.0" stroke="#111" stroke-width="1"/>
<rect x="519.42" y="105.8" width="2.70" height="1.4" fill="#000"/>
<line x1="524.52" y1="106.2" x2="524.52" y2="127.6" stroke="#111" stroke-width="1"/>
<rect x="523.17" y="107.0" width="2.70" height="12.5" fill="#000"/>
<line x1="528.28" y1="114.7" x2="528.28" y2="127.6" stroke="#111" stroke-width="1"/>
<rect x="526.93" y="118.5" width="2.70" height="1.4" fill="#000"/>
<line x1="532.04" y1="107.9" x2="532.04" y2="119.0" stroke="#111" stroke-width="1"/>
<rect x="530.69" y="116.5" width="2.70" height="1.3" fill="#000"/>
<line x1="535.79" y1="108.7" x2="535.79" y2="132.8" stroke="#111" stroke-width="1"/>
<rect x="534.44" y="117.3" width="2.70" height="6.9" fill="#000"/>
<line x1="539.55" y1="120.7" x2="539.55" y2="125.9" stroke="#111" stroke-width="1"/>
<rect x="538.20" y="122.5" width="2.70" height="1.7" fill="#000"/>
<line x1="543.31" y1="107.9" x2="543.31" y2="125.9" stroke="#0d6b52" stroke-width="1"/>
<rect x="541.96" y="111.7" width="2.70" height="10.8" fill="#1d866d" stroke="#0d6b52" stroke-width="0.6"/>
<line x1="547.06" y1="108.7" x2="547.06" y2="126.7" stroke="#111" stroke-width="1"/>
<rect x="545.71" y="111.7" width="2.70" height="13.3" fill="#000"/>
<line x1="550.82" y1="108.7" x2="550.82" y2="127.6" stroke="#111" stroke-width="1"/>
<rect x="549.47" y="123.7" width="2.70" height="1.3" fill="#000"/>
<line x1="554.58" y1="122.5" x2="554.58" y2="130.2" stroke="#111" stroke-width="1"/>
<rect x="553.23" y="124.2" width="2.70" height="2.9" fill="#000"/>
<line x1="558.34" y1="121.6" x2="558.34" y2="127.6" stroke="#0d6b52" stroke-width="1"/>
<rect x="556.99" y="124.7" width="2.70" height="1.7" fill="#1d866d" stroke="#0d6b52" stroke-width="0.6"/>
<line x1="562.09" y1="117.3" x2="562.09" y2="126.7" stroke="#0d6b52" stroke-width="1"/>
<rect x="560.74" y="123.7" width="2.70" height="1.3" fill="#1d866d" stroke="#0d6b52" stroke-width="0.6"/>
<line x1="565.85" y1="117.3" x2="565.85" y2="125.9" stroke="#0d6b52" stroke-width="1"/>
<rect x="564.50" y="123.3" width="2.70" height="1.4" fill="#1d866d" stroke="#0d6b52" stroke-width="0.6"/>
<line x1="569.61" y1="115.6" x2="569.61" y2="125.0" stroke="#0d6b52" stroke-width="1"/>
<rect x="568.26" y="120.2" width="2.70" height="4.0" fill="#1d866d" stroke="#0d6b52" stroke-width="0.6"/>
<line x1="573.36" y1="110.5" x2="573.36" y2="121.3" stroke="#0d6b52" stroke-width="1"/>
<rect x="572.01" y="111.3" width="2.70" height="8.9" fill="#1d866d" stroke="#0d6b52" stroke-width="0.6"/>
<line x1="577.12" y1="88.1" x2="577.12" y2="112.1" stroke="#0d6b52" stroke-width="1"/>
<rect x="575.77" y="89.8" width="2.70" height="21.5" fill="#1d866d" stroke="#0d6b52" stroke-width="0.6"/>
<line x1="580.88" y1="85.0" x2="580.88" y2="98.0" stroke="#111" stroke-width="1"/>
<rect x="579.53" y="90.3" width="2.70" height="3.4" fill="#000"/>
<line x1="584.63" y1="92.3" x2="584.63" y2="99.4" stroke="#111" stroke-width="1"/>
<rect x="583.28" y="94.1" width="2.70" height="4.2" fill="#000"/>
<line x1="588.39" y1="94.1" x2="588.39" y2="110.0" stroke="#111" stroke-width="1"/>
<rect x="587.04" y="99.2" width="2.70" height="6.0" fill="#000"/>
<line x1="592.15" y1="104.3" x2="592.15" y2="113.7" stroke="#111" stroke-width="1"/>
<rect x="590.80" y="105.5" width="2.70" height="1.4" fill="#000"/>
<line x1="595.91" y1="98.3" x2="595.91" y2="113.7" stroke="#0d6b52" stroke-width="1"/>
<rect x="594.56" y="100.0" width="2.70" height="6.9" fill="#1d866d" stroke="#0d6b52" stroke-width="0.6"/>
<line x1="599.66" y1="95.7" x2="599.66" y2="101.7" stroke="#0d6b52" stroke-width="1"/>
<rect x="598.31" y="99.5" width="2.70" height="1.4" fill="#1d866d" stroke="#0d6b52" stroke-width="0.6"/>
<line x1="603.42" y1="97.4" x2="603.42" y2="112.0" stroke="#111" stroke-width="1"/>
<rect x="602.07" y="100.0" width="2.70" height="10.3" fill="#000"/>
<line x1="607.18" y1="107.7" x2="607.18" y2="111.2" stroke="#111" stroke-width="1"/>
<rect x="605.83" y="109.1" width="2.70" height="1.2" fill="#000"/>
<line x1="610.93" y1="108.6" x2="610.93" y2="112.0" stroke="#111" stroke-width="1"/>
<rect x="609.58" y="109.5" width="2.70" height="1.7" fill="#000"/>
<line x1="614.69" y1="111.2" x2="614.69" y2="146.3" stroke="#111" stroke-width="1"/>
<rect x="613.34" y="112.0" width="2.70" height="21.1" fill="#000"/>
<line x1="618.45" y1="130.9" x2="618.45" y2="140.3" stroke="#111" stroke-width="1"/>
<rect x="617.10" y="133.1" width="2.70" height="3.5" fill="#000"/>
<line x1="622.20" y1="132.6" x2="622.20" y2="144.6" stroke="#111" stroke-width="1"/>
<rect x="620.85" y="136.6" width="2.70" height="1.3" fill="#000"/>
<line x1="625.96" y1="136.9" x2="625.96" y2="168.6" stroke="#111" stroke-width="1"/>
<rect x="624.61" y="137.8" width="2.70" height="25.7" fill="#000"/>
<line x1="629.72" y1="148.0" x2="629.72" y2="164.3" stroke="#0d6b52" stroke-width="1"/>
<rect x="628.37" y="148.9" width="2.70" height="14.6" fill="#1d866d" stroke="#0d6b52" stroke-width="0.6"/>
<line x1="633.48" y1="148.0" x2="633.48" y2="154.0" stroke="#111" stroke-width="1"/>
<rect x="632.13" y="148.9" width="2.70" height="1.2" fill="#000"/>
<line x1="637.23" y1="137.8" x2="637.23" y2="154.9" stroke="#0d6b52" stroke-width="1"/>
<rect x="635.88" y="139.5" width="2.70" height="10.3" fill="#1d866d" stroke="#0d6b52" stroke-width="0.6"/>
<line x1="640.99" y1="130.0" x2="640.99" y2="142.0" stroke="#0d6b52" stroke-width="1"/>
<rect x="639.64" y="131.7" width="2.70" height="7.4" fill="#1d866d" stroke="#0d6b52" stroke-width="0.6"/>
<line x1="644.75" y1="128.3" x2="644.75" y2="142.9" stroke="#111" stroke-width="1"/>
<rect x="643.40" y="132.1" width="2.70" height="6.5" fill="#000"/>
<line x1="648.50" y1="119.7" x2="648.50" y2="139.5" stroke="#0d6b52" stroke-width="1"/>
<rect x="647.15" y="120.3" width="2.70" height="18.3" fill="#1d866d" stroke="#0d6b52" stroke-width="0.6"/>
<line x1="652.26" y1="106.9" x2="652.26" y2="121.1" stroke="#0d6b52" stroke-width="1"/>
<rect x="650.91" y="109.1" width="2.70" height="11.2" fill="#1d866d" stroke="#0d6b52" stroke-width="0.6"/>
<line x1="656.02" y1="100.0" x2="656.02" y2="112.9" stroke="#0d6b52" stroke-width="1"/>
<rect x="654.67" y="106.9" width="2.70" height="1.7" fill="#1d866d" stroke="#0d6b52" stroke-width="0.6"/>
<line x1="659.77" y1="105.2" x2="659.77" y2="112.0" stroke="#111" stroke-width="1"/>
<rect x="658.42" y="106.5" width="2.70" height="1.6" fill="#000"/>
<line x1="663.53" y1="102.6" x2="663.53" y2="108.6" stroke="#0d6b52" stroke-width="1"/>
<rect x="662.18" y="106.4" width="2.70" height="1.3" fill="#1d866d" stroke="#0d6b52" stroke-width="0.6"/>
<line x1="667.29" y1="88.0" x2="667.29" y2="107.4" stroke="#0d6b52" stroke-width="1"/>
<rect x="665.94" y="91.4" width="2.70" height="15.1" fill="#1d866d" stroke="#0d6b52" stroke-width="0.6"/>
<line x1="671.05" y1="87.2" x2="671.05" y2="112.0" stroke="#111" stroke-width="1"/>
<rect x="669.70" y="92.0" width="2.70" height="19.2" fill="#000"/>
<line x1="674.80" y1="104.3" x2="674.80" y2="112.9" stroke="#0d6b52" stroke-width="1"/>
<rect x="673.45" y="105.7" width="2.70" height="6.3" fill="#1d866d" stroke="#0d6b52" stroke-width="0.6"/>
<line x1="678.56" y1="105.2" x2="678.56" y2="127.6" stroke="#111" stroke-width="1"/>
<rect x="677.21" y="105.7" width="2.70" height="13.2" fill="#000"/>
<line x1="682.32" y1="116.3" x2="682.32" y2="198.0" stroke="#111" stroke-width="1"/>
<rect x="680.97" y="118.9" width="2.70" height="48.9" fill="#000"/>
<line x1="686.07" y1="161.2" x2="686.07" y2="186.9" stroke="#111" stroke-width="1"/>
<rect x="684.72" y="168.0" width="2.70" height="8.6" fill="#000"/>
<line x1="689.83" y1="134.6" x2="689.83" y2="181.7" stroke="#0d6b52" stroke-width="1"/>
<rect x="688.48" y="138.0" width="2.70" height="38.6" fill="#1d866d" stroke="#0d6b52" stroke-width="0.6"/>
<line x1="693.59" y1="125.0" x2="693.59" y2="147.6" stroke="#0d6b52" stroke-width="1"/>
<rect x="692.24" y="129.4" width="2.70" height="8.3" fill="#1d866d" stroke="#0d6b52" stroke-width="0.6"/>
<line x1="697.35" y1="128.5" x2="697.35" y2="162.0" stroke="#111" stroke-width="1"/>
<rect x="696.00" y="129.3" width="2.70" height="10.8" fill="#000"/>
<line x1="701.10" y1="132.3" x2="701.10" y2="157.6" stroke="#111" stroke-width="1"/>
<rect x="699.75" y="140.1" width="2.70" height="13.4" fill="#000"/>
<line x1="704.86" y1="144.3" x2="704.86" y2="167.9" stroke="#111" stroke-width="1"/>
<rect x="703.51" y="153.5" width="2.70" height="9.0" fill="#000"/>
<line x1="708.62" y1="157.0" x2="708.62" y2="183.5" stroke="#111" stroke-width="1"/>
<rect x="707.27" y="162.5" width="2.70" height="5.5" fill="#000"/>
<line x1="712.37" y1="159.4" x2="712.37" y2="168.9" stroke="#0d6b52" stroke-width="1"/>
<rect x="711.02" y="162.5" width="2.70" height="5.5" fill="#1d866d" stroke="#0d6b52" stroke-width="0.6"/>
<line x1="716.13" y1="148.2" x2="716.13" y2="167.0" stroke="#0d6b52" stroke-width="1"/>
<rect x="714.78" y="153.3" width="2.70" height="9.5" fill="#1d866d" stroke="#0d6b52" stroke-width="0.6"/>
<line x1="719.89" y1="144.0" x2="719.89" y2="160.0" stroke="#111" stroke-width="1"/>
<rect x="718.54" y="153.0" width="2.70" height="1.2" fill="#000"/>
<line x1="723.64" y1="141.3" x2="723.64" y2="168.0" stroke="#111" stroke-width="1"/>
<rect x="722.29" y="153.5" width="2.70" height="10.1" fill="#000"/>
<line x1="727.40" y1="162.0" x2="727.40" y2="180.0" stroke="#111" stroke-width="1"/>
<rect x="726.05" y="163.6" width="2.70" height="7.5" fill="#000"/>
<line x1="731.16" y1="158.6" x2="731.16" y2="172.3" stroke="#0d6b52" stroke-width="1"/>
<rect x="729.81" y="165.5" width="2.70" height="5.6" fill="#1d866d" stroke="#0d6b52" stroke-width="0.6"/>
<line x1="734.91" y1="150.0" x2="734.91" y2="166.7" stroke="#0d6b52" stroke-width="1"/>
<rect x="733.56" y="159.1" width="2.70" height="6.4" fill="#1d866d" stroke="#0d6b52" stroke-width="0.6"/>
<line x1="738.67" y1="154.3" x2="738.67" y2="159.1" stroke="#0d6b52" stroke-width="1"/>
<rect x="737.32" y="156.0" width="2.70" height="1.7" fill="#1d866d" stroke="#0d6b52" stroke-width="0.6"/>
<line x1="742.43" y1="135.4" x2="742.43" y2="159.5" stroke="#0d6b52" stroke-width="1"/>
<rect x="741.08" y="136.8" width="2.70" height="19.6" fill="#1d866d" stroke="#0d6b52" stroke-width="0.6"/>
<line x1="746.19" y1="128.6" x2="746.19" y2="142.0" stroke="#111" stroke-width="1"/>
<rect x="744.84" y="136.3" width="2.70" height="4.3" fill="#000"/>
<line x1="749.94" y1="137.2" x2="749.94" y2="158.6" stroke="#111" stroke-width="1"/>
<rect x="748.59" y="140.6" width="2.70" height="12.8" fill="#000"/>
<line x1="753.70" y1="148.3" x2="753.70" y2="167.2" stroke="#111" stroke-width="1"/>
<rect x="752.35" y="154.0" width="2.70" height="7.2" fill="#000"/>
<line x1="757.46" y1="156.9" x2="757.46" y2="183.5" stroke="#111" stroke-width="1"/>
<rect x="756.11" y="161.2" width="2.70" height="9.9" fill="#000"/>
<line x1="761.21" y1="161.2" x2="761.21" y2="171.8" stroke="#0d6b52" stroke-width="1"/>
<rect x="759.86" y="167.7" width="2.70" height="3.4" fill="#1d866d" stroke="#0d6b52" stroke-width="0.6"/>
<line x1="764.97" y1="161.2" x2="764.97" y2="167.7" stroke="#0d6b52" stroke-width="1"/>
<rect x="763.62" y="164.6" width="2.70" height="1.7" fill="#1d866d" stroke="#0d6b52" stroke-width="0.6"/>
<line x1="768.73" y1="160.3" x2="768.73" y2="168.0" stroke="#0d6b52" stroke-width="1"/>
<rect x="767.38" y="161.2" width="2.70" height="3.1" fill="#1d866d" stroke="#0d6b52" stroke-width="0.6"/>
<line x1="772.49" y1="160.3" x2="772.49" y2="196.0" stroke="#111" stroke-width="1"/>
<rect x="771.13" y="161.2" width="2.70" height="30.5" fill="#000"/>
<line x1="776.24" y1="186.2" x2="776.24" y2="252.5" stroke="#111" stroke-width="1"/>
<rect x="774.89" y="192.0" width="2.70" height="34.0" fill="#000"/>
<line x1="780.00" y1="201.6" x2="780.00" y2="239.4" stroke="#0d6b52" stroke-width="1"/>
<rect x="778.65" y="210.9" width="2.70" height="15.1" fill="#1d866d" stroke="#0d6b52" stroke-width="0.6"/>
<line x1="783.76" y1="208.6" x2="783.76" y2="231.7" stroke="#111" stroke-width="1"/>
<rect x="782.41" y="210.9" width="2.70" height="11.5" fill="#000"/>
<line x1="787.51" y1="205.5" x2="787.51" y2="237.1" stroke="#0d6b52" stroke-width="1"/>
<rect x="786.16" y="210.1" width="2.70" height="13.1" fill="#1d866d" stroke="#0d6b52" stroke-width="0.6"/>
<line x1="791.27" y1="203.9" x2="791.27" y2="217.0" stroke="#111" stroke-width="1"/>
<rect x="789.92" y="210.1" width="2.70" height="3.1" fill="#000"/>
<line x1="795.03" y1="189.3" x2="795.03" y2="214.7" stroke="#0d6b52" stroke-width="1"/>
<rect x="793.68" y="193.9" width="2.70" height="19.3" fill="#1d866d" stroke="#0d6b52" stroke-width="0.6"/>
<line x1="798.78" y1="186.2" x2="798.78" y2="200.0" stroke="#111" stroke-width="1"/>
<rect x="797.43" y="193.6" width="2.70" height="1.5" fill="#000"/>
<line x1="802.54" y1="186.0" x2="802.54" y2="199.2" stroke="#111" stroke-width="1"/>
<rect x="801.19" y="194.8" width="2.70" height="3.9" fill="#000"/>
</g>
<polyline fill="none" stroke="#000" stroke-width="1.75" stroke-linejoin="miter" points="798.7,259.3 844.1,145.7 874.3,211.2 899.9,82.3"/>
<polyline fill="none" stroke="#000" stroke-width="1.75" stroke-linejoin="miter" points="891.4,88.4 899.9,82.0 907.3,91.9"/>
<circle cx="815.1" cy="478.7" r="7.2" fill="#fff" stroke="#d9303a" stroke-width="1.5"/>
<circle cx="812.5" cy="478.7" r="7.2" fill="#fff" stroke="#d9303a" stroke-width="1.5"/>
<circle cx="809.8" cy="478.7" r="7.2" fill="#fff" stroke="#d9303a" stroke-width="1.5"/>
<g clip-path="url(#flagclip)">
<rect x="802" y="471" width="16" height="16" fill="#ffffff"/>
<rect x="802" y="474.0" width="16" height="1.7" fill="#e0343f"/>
<rect x="802" y="477.6" width="16" height="1.7" fill="#e0343f"/>
<rect x="802" y="481.6" width="16" height="1.7" fill="#e0343f"/>
<rect x="802" y="471" width="8.4" height="8.3" fill="#3b82f0"/>
</g>
<g clip-path="url(#obclip)"><polygon fill="rgba(76,175,80,0.35)" points="0.8,539.6 4.2,540.5 8.4,539.6 16.8,541.3 25.2,540.1 29.4,538.8 36.1,540.5 40.3,528.7 43.7,526.2 47.9,527.9 54.6,525.0 58.0,526.7 68.9,527.0 74.8,524.0 79.0,524.0 85.7,527.0 96.6,527.0 99.2,506.0 101.7,504.3 107.6,498.8 111.8,503.2 117.6,501.8 124.4,510.2 130.3,511.9 133.6,515.8 141.2,514.4 147.0,513.9 152.9,510.2 156.3,519.5 166.4,518.3 170.6,514.9 175.6,513.9 183.2,525.0 189.0,524.5 193.3,521.1 200.0,521.1 202.0,522.0 205.0,534.6 211.8,528.4 216.8,529.0 223.5,515.8 227.7,518.6 231.9,526.2 239.5,531.7 246.2,531.2 250.4,532.9 258.0,532.6 264.7,543.0 268.6,546.3 273.1,535.1 279.0,534.6 290.8,533.7 295.8,529.5 299.2,530.0 302.9,534.6 306.7,525.3 310.9,525.0 314.3,530.0 317.6,529.5 321.8,527.0 325.7,528.4 329.4,524.5 337.0,511.9 340.3,511.6 344.5,512.7 352.1,510.2 355.5,506.8 359.7,501.8 366.4,499.8 374.8,497.1 380.7,497.6 384.0,502.6 385.7,506.8 391.6,505.5 400.0,504.3 403.4,507.7 411.8,508.2 414.3,513.6 419.3,527.9 423.5,532.4 430.3,521.1 434.5,525.3 438.7,522.0 443.7,516.1 449.6,509.9 457.1,511.6 460.5,506.0 464.7,504.8 467.2,510.2 472.3,516.6 479.8,516.6 487.1,529.5 491.6,524.0 494.5,526.2 498.3,516.9 505.9,518.6 510.1,527.0 514.3,524.5 521.0,526.2 526.1,529.5 532.8,529.0 537.0,530.7 542.9,528.4 546.2,530.7 554.6,532.6 561.3,531.2 568.1,530.7 573.1,527.0 577.3,519.1 582.4,521.1 589.9,527.0 595.8,524.5 600.0,525.3 603.4,529.5 608.4,529.5 611.8,532.1 615.1,539.6 621.8,541.3 626.1,548.9 630.3,541.8 633.6,542.1 639.5,535.4 645.4,534.6 649.6,527.9 653.8,524.5 663.0,524.8 667.2,519.5 671.4,528.4 675.6,526.2 678.2,530.4 682.4,543.8 686.6,545.5 690.8,534.1 694.1,532.9 697.5,534.6 702.5,538.4 709.2,540.5 716.0,537.1 719.3,536.3 727.7,540.5 734.5,536.3 738.7,535.1 742.9,528.7 747.1,530.7 752.9,535.4 758.0,539.1 768.9,535.8 773.1,543.8 776.5,549.7 780.7,545.2 783.2,546.8 787.4,543.5 791.6,543.0 795.0,537.9 800.0,537.6 802.6,537.8 802.6,520 0.8,520"/></g>
<line x1="1.7" y1="508.8" x2="1143" y2="508.8" stroke="#2f9e83" stroke-width="1.8" stroke-dasharray="7.9 9.8"/>
<line x1="1.0" y1="554.3" x2="1143" y2="554.3" stroke="#d5303a" stroke-width="1.8" stroke-dasharray="8.2 9.5"/>
<polyline fill="none" stroke="#f5d548" stroke-width="1.7" stroke-linejoin="round" points="0.0,544.7 16.8,544.7 33.6,542.1 50.4,536.3 67.2,531.2 84.0,526.7 96.6,527.0 107.6,521.1 117.6,516.1 130.3,511.9 142.9,509.9 152.9,509.9 161.3,512.7 169.7,514.9 176.5,514.9 184.9,516.9 200.0,519.5 208.4,522.0 216.8,523.3 225.2,523.7 233.6,525.0 247.1,526.7 258.8,529.0 270.6,532.6 279.0,534.9 290.8,535.1 304.2,535.1 314.3,533.4 327.7,530.0 342.9,524.0 356.3,517.8 368.1,511.9 378.2,506.5 388.2,504.8 400.0,503.2 411.8,503.2 418.5,506.0 426.9,511.1 438.7,515.6 448.7,517.3 458.8,517.8 472.3,516.6 482.4,515.3 494.1,515.6 507.6,517.8 521.0,522.3 534.5,525.0 546.2,526.7 558.0,530.0 568.1,530.7 578.2,529.5 589.9,527.9 600.0,526.7 610.1,527.0 620.2,529.0 633.6,533.7 645.4,536.3 657.1,535.8 667.2,533.7 677.3,530.4 687.4,530.4 697.5,530.4 707.6,532.9 717.6,536.3 727.7,539.1 737.8,537.4 751.3,536.3 761.3,536.3 769.7,536.3 781.5,537.9 791.6,539.1 800.0,540.5 802.6,540.8"/>
<polyline fill="none" stroke="#6a4fc0" stroke-width="1.7" stroke-linejoin="round" points="0.8,539.6 4.2,540.5 8.4,539.6 16.8,541.3 25.2,540.1 29.4,538.8 36.1,540.5 40.3,528.7 43.7,526.2 47.9,527.9 54.6,525.0 58.0,526.7 68.9,527.0 74.8,524.0 79.0,524.0 85.7,527.0 96.6,527.0 99.2,506.0 101.7,504.3 107.6,498.8 111.8,503.2 117.6,501.8 124.4,510.2 130.3,511.9 133.6,515.8 141.2,514.4 147.0,513.9 152.9,510.2 156.3,519.5 166.4,518.3 170.6,514.9 175.6,513.9 183.2,525.0 189.0,524.5 193.3,521.1 200.0,521.1 202.0,522.0 205.0,534.6 211.8,528.4 216.8,529.0 223.5,515.8 227.7,518.6 231.9,526.2 239.5,531.7 246.2,531.2 250.4,532.9 258.0,532.6 264.7,543.0 268.6,546.3 273.1,535.1 279.0,534.6 290.8,533.7 295.8,529.5 299.2,530.0 302.9,534.6 306.7,525.3 310.9,525.0 314.3,530.0 317.6,529.5 321.8,527.0 325.7,528.4 329.4,524.5 337.0,511.9 340.3,511.6 344.5,512.7 352.1,510.2 355.5,506.8 359.7,501.8 366.4,499.8 374.8,497.1 380.7,497.6 384.0,502.6 385.7,506.8 391.6,505.5 400.0,504.3 403.4,507.7 411.8,508.2 414.3,513.6 419.3,527.9 423.5,532.4 430.3,521.1 434.5,525.3 438.7,522.0 443.7,516.1 449.6,509.9 457.1,511.6 460.5,506.0 464.7,504.8 467.2,510.2 472.3,516.6 479.8,516.6 487.1,529.5 491.6,524.0 494.5,526.2 498.3,516.9 505.9,518.6 510.1,527.0 514.3,524.5 521.0,526.2 526.1,529.5 532.8,529.0 537.0,530.7 542.9,528.4 546.2,530.7 554.6,532.6 561.3,531.2 568.1,530.7 573.1,527.0 577.3,519.1 582.4,521.1 589.9,527.0 595.8,524.5 600.0,525.3 603.4,529.5 608.4,529.5 611.8,532.1 615.1,539.6 621.8,541.3 626.1,548.9 630.3,541.8 633.6,542.1 639.5,535.4 645.4,534.6 649.6,527.9 653.8,524.5 663.0,524.8 667.2,519.5 671.4,528.4 675.6,526.2 678.2,530.4 682.4,543.8 686.6,545.5 690.8,534.1 694.1,532.9 697.5,534.6 702.5,538.4 709.2,540.5 716.0,537.1 719.3,536.3 727.7,540.5 734.5,536.3 738.7,535.1 742.9,528.7 747.1,530.7 752.9,535.4 758.0,539.1 768.9,535.8 773.1,543.8 776.5,549.7 780.7,545.2 783.2,546.8 787.4,543.5 791.6,543.0 795.0,537.9 800.0,537.6 802.6,537.8"/>
<rect x="1143" y="0" width="57" height="562" fill="#fff"/>
<text x="1150.0" y="52.02" font-size="10.00" font-weight="normal" fill="#2a2e39" textLength="41.3" lengthAdjust="spacingAndGlyphs">5,250.00</text>
<text x="1150.0" y="82.32" font-size="10.00" font-weight="normal" fill="#2a2e39" textLength="41.3" lengthAdjust="spacingAndGlyphs">4,850.00</text>
<text x="1150.0" y="114.72" font-size="10.00" font-weight="normal" fill="#2a2e39" textLength="41.3" lengthAdjust="spacingAndGlyphs">4,450.00</text>
<text x="1150.0" y="150.22" font-size="10.00" font-weight="normal" fill="#2a2e39" textLength="41.3" lengthAdjust="spacingAndGlyphs">4,050.00</text>
<text x="1150.0" y="222.02" font-size="10.00" font-weight="normal" fill="#2a2e39" textLength="41.3" lengthAdjust="spacingAndGlyphs">3,350.00</text>
<text x="1150.0" y="257.32" font-size="10.00" font-weight="normal" fill="#2a2e39" textLength="41.3" lengthAdjust="spacingAndGlyphs">3,050.00</text>
<text x="1150.0" y="283.02" font-size="10.00" font-weight="normal" fill="#2a2e39" textLength="41.3" lengthAdjust="spacingAndGlyphs">2,850.00</text>
<text x="1150.0" y="310.62" font-size="10.00" font-weight="normal" fill="#2a2e39" textLength="41.3" lengthAdjust="spacingAndGlyphs">2,650.00</text>
<text x="1150.0" y="339.92" font-size="10.00" font-weight="normal" fill="#2a2e39" textLength="41.3" lengthAdjust="spacingAndGlyphs">2,450.00</text>
<text x="1150.0" y="372.12" font-size="10.00" font-weight="normal" fill="#2a2e39" textLength="41.3" lengthAdjust="spacingAndGlyphs">2,250.00</text>
<text x="1150.0" y="399.62" font-size="10.00" font-weight="normal" fill="#2a2e39" textLength="41.3" lengthAdjust="spacingAndGlyphs">2,090.00</text>
<text x="1150.0" y="427.62" font-size="10.00" font-weight="normal" fill="#2a2e39" textLength="41.3" lengthAdjust="spacingAndGlyphs">1,940.00</text>
<text x="1150.0" y="456.82" font-size="10.00" font-weight="normal" fill="#2a2e39" textLength="41.3" lengthAdjust="spacingAndGlyphs">1,800.00</text>
<text x="1150.0" y="482.62" font-size="10.00" font-weight="normal" fill="#2a2e39" textLength="41.3" lengthAdjust="spacingAndGlyphs">1,680.00</text>
<text x="1153.2" y="18.02" font-size="10.00" font-weight="normal" fill="#2a2e39" textLength="19.8" lengthAdjust="spacingAndGlyphs">USD</text>
<text x="1150.2" y="508.02" font-size="10.00" font-weight="normal" fill="#2a2e39" textLength="26.1" lengthAdjust="spacingAndGlyphs">80.00</text>
<rect x="1143.3" y="179.3" width="53" height="13.7" rx="1.5" fill="#ff9800"/>
<text x="1151.0" y="189.72" font-size="10.00" font-weight="normal" fill="#5e3a05" textLength="40.7" lengthAdjust="spacingAndGlyphs">3,595.77</text>
<rect x="1143.3" y="192.8" width="53" height="24.0" rx="1.5" fill="#000"/>
<text x="1151.0" y="203.02" font-size="10.00" font-weight="normal" fill="#fff" textLength="40.7" lengthAdjust="spacingAndGlyphs">3,524.50</text>
<text x="1150.2" y="214.22" font-size="10.00" font-weight="normal" fill="#c9c9c9" textLength="41.5" lengthAdjust="spacingAndGlyphs">09:28:18</text>
<rect x="1097" y="193.2" width="44.7" height="12.6" rx="1.5" fill="#000"/>
<text x="1100.2" y="203.05" font-size="9.80" font-weight="bold" fill="#fff" textLength="38.8" lengthAdjust="spacingAndGlyphs">ETHUSD</text>
<rect x="1143.3" y="440.8" width="50.9" height="13.4" rx="1.5" fill="#2962ff"/>
<text x="1151.0" y="451.22" font-size="10.00" font-weight="normal" fill="#fff" textLength="39.6" lengthAdjust="spacingAndGlyphs">130.79 K</text>
<rect x="1143.3" y="465.0" width="45.3" height="12.9" rx="1.5" fill="#f0434c"/>
<text x="1151.0" y="475.22" font-size="10.00" font-weight="normal" fill="#fff" textLength="33.5" lengthAdjust="spacingAndGlyphs">53.29 K</text>
<rect x="1143.4" y="532.0" width="37.4" height="12.9" rx="1.5" fill="#7e57c2"/>
<text x="1149.7" y="542.22" font-size="10.00" font-weight="normal" fill="#fff" textLength="26.6" lengthAdjust="spacingAndGlyphs">42.04</text>
<rect x="1143.4" y="544.8" width="37.4" height="14.4" rx="1.5" fill="#fccf2f"/>
<text x="1149.7" y="555.92" font-size="10.00" font-weight="normal" fill="#3a2f05" textLength="26.6" lengthAdjust="spacingAndGlyphs">39.62</text>
<text x="64.8" y="576.42" font-size="10.00" font-weight="normal" fill="#2a2e39" textLength="18.2" lengthAdjust="spacingAndGlyphs">May</text>
<text x="182.1" y="576.42" font-size="10.00" font-weight="normal" fill="#2a2e39" textLength="16.6" lengthAdjust="spacingAndGlyphs">Jun</text>
<text x="296.4" y="576.42" font-size="10.00" font-weight="normal" fill="#2a2e39" textLength="13.2" lengthAdjust="spacingAndGlyphs">Jul</text>
<text x="410.5" y="576.42" font-size="10.00" font-weight="normal" fill="#2a2e39" textLength="17.6" lengthAdjust="spacingAndGlyphs">Aug</text>
<text x="527.2" y="576.42" font-size="10.00" font-weight="normal" fill="#2a2e39" textLength="17.2" lengthAdjust="spacingAndGlyphs">Sep</text>
<text x="640.8" y="576.42" font-size="10.00" font-weight="normal" fill="#2a2e39" textLength="15.8" lengthAdjust="spacingAndGlyphs">Oct</text>
<text x="756.5" y="576.42" font-size="10.00" font-weight="normal" fill="#2a2e39" textLength="17.4" lengthAdjust="spacingAndGlyphs">Nov</text>
<text x="869.2" y="576.42" font-size="10.00" font-weight="normal" fill="#2a2e39" textLength="17.8" lengthAdjust="spacingAndGlyphs">Dec</text>
<text x="1103.0" y="576.42" font-size="10.00" font-weight="normal" fill="#2a2e39" textLength="16.5" lengthAdjust="spacingAndGlyphs">Feb</text>
<text x="982.2" y="576.42" font-size="10.00" font-weight="bold" fill="#131722" textLength="25.0" lengthAdjust="spacingAndGlyphs">2026</text>
<text x="7.5" y="17.45" font-size="10.20" font-weight="normal" fill="#131722" textLength="170.0" lengthAdjust="spacingAndGlyphs">Ethereum / U.S. Dollar · 1D · Coinbase</text>
<text x="183.7" y="17.45" font-size="10.20" font-weight="normal" fill="#131722" textLength="45.8" lengthAdjust="spacingAndGlyphs">O3,566.41</text>
<text x="236.2" y="17.45" font-size="10.20" font-weight="normal" fill="#131722" textLength="45.8" lengthAdjust="spacingAndGlyphs">H3,647.38</text>
<text x="288.7" y="17.45" font-size="10.20" font-weight="normal" fill="#131722" textLength="43.3" lengthAdjust="spacingAndGlyphs">L3,522.12</text>
<text x="338.0" y="17.45" font-size="10.20" font-weight="normal" fill="#131722" textLength="46.2" lengthAdjust="spacingAndGlyphs">C3,524.50</text>
<text x="391.2" y="17.45" font-size="10.20" font-weight="normal" fill="#131722" textLength="72.5" lengthAdjust="spacingAndGlyphs">−41.99 (−1.18%)</text>
<text x="7.5" y="31.15" font-size="10.20" font-weight="normal" fill="#131722" textLength="61.2" lengthAdjust="spacingAndGlyphs">Vol · ETH (14)</text>
<text x="75.5" y="31.15" font-size="10.20" font-weight="normal" fill="#f0525a" textLength="33.2" lengthAdjust="spacingAndGlyphs">53.29 K</text>
<text x="115.0" y="31.15" font-size="10.20" font-weight="normal" fill="#3f6fe8" textLength="37.0" lengthAdjust="spacingAndGlyphs">130.79 K</text>
<text x="7.5" y="44.85" font-size="10.20" font-weight="normal" fill="#131722" textLength="77.0" lengthAdjust="spacingAndGlyphs">EMA (200, close)</text>
<text x="91.2" y="44.85" font-size="10.20" font-weight="normal" fill="#f5a64a" textLength="38.8" lengthAdjust="spacingAndGlyphs">3,595.77</text>
<text x="7.6" y="506.89" font-size="10.20" font-weight="normal" fill="#131722" textLength="64.4" lengthAdjust="spacingAndGlyphs">RSI (14, close)</text>
<text x="78.7" y="506.89" font-size="10.20" font-weight="normal" fill="#7e57c2" textLength="24.8" lengthAdjust="spacingAndGlyphs">42.04</text>
<text x="111.0" y="506.89" font-size="10.20" font-weight="normal" fill="#f2cf3a" textLength="24.8" lengthAdjust="spacingAndGlyphs">39.62</text>
</svg></body></html>
